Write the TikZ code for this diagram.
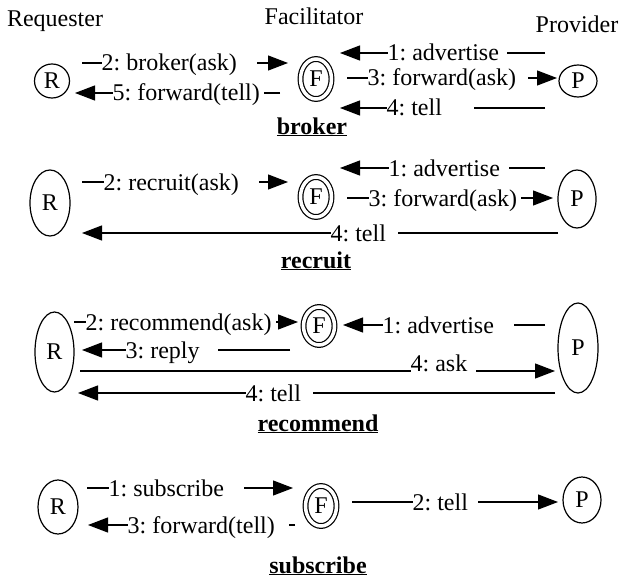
\documentclass[tikz,border=0pt]{standalone}
\usepackage{fontspec}
\setmainfont{Liberation Serif}
\usetikzlibrary{shapes.geometric,arrows.meta}
\newcommand{\gapbox}[2]{\makebox[#1][l]{#2}}
\begin{document}
\begin{tikzpicture}[x=1pt,y=-1pt,font=\fontsize{24}{28}\selectfont\frenchspacing,
  ell/.style={draw,ellipse,line width=1.2pt,inner sep=0pt,outer sep=0pt},
  fac/.style={ell,double,double distance=3.5pt,minimum width=31pt,minimum height=40pt},
  arr/.style={line width=1.2pt,-{Triangle[length=20pt,width=15pt]}},
  lab/.style={fill=white,inner xsep=0pt,inner ysep=1.5pt,anchor=base west},
  head/.style={anchor=base},
  title/.style={anchor=base,font=\fontsize{24}{28}\selectfont\bfseries}]
\useasboundingbox (0,0) rectangle (619,578);

% headers
\node[head] (hR) at (55,27) {Requester};
\node[head] (hF) at (314,25) {Facilitator};
\node[head] (hP) at (577,33) {Provider};

% ---------- broker ----------
\node[ell,minimum width=35pt,minimum height=34pt] (R1) at (52,81) {R};
\node[fac] (F1) at (316,79) {F};
\node[ell,minimum width=38pt,minimum height=32pt] (P1) at (578,81) {P};
\draw[arr,shorten <=12.5pt,shorten >=12.5pt] (R1.east |- 0,63) -- (F1.west |- 0,63)
  node[lab] at (101,71) {\gapbox{155pt}{2: broker(ask)}};
\draw[arr,shorten <=20.5pt,shorten >=5.5pt] (F1.west |- 0,93) -- (R1.east |- 0,93)
  node[lab] at (112,101) {\gapbox{151pt}{5: forward(tell)}};
\draw[arr,shorten <=14pt,shorten >=8.5pt] (P1.west |- 0,53) -- (F1.east |- 0,53)
  node[lab] at (387,61) {\gapbox{119pt}{1: advertise}};
\draw[arr,shorten <=15.5pt,shorten >=2pt] (F1.east |- 0,78) -- (P1.west |- 0,78)
  node[lab] at (367,86) {\gapbox{160pt}{3: forward(ask)}};
\draw[arr,shorten <=14pt,shorten >=8.5pt] (P1.west |- 0,108) -- (F1.east |- 0,108)
  node[lab] at (386,116) {\gapbox{87pt}{4: tell}};
\node[title] (T1) at (312,134) {\underline{broker}};

% ---------- recruit ----------
\node[ell,minimum width=40pt,minimum height=66pt] (R2) at (50,203) {R};
\node[fac] (F2) at (316,197) {F};
\node[ell,minimum width=38pt,minimum height=58pt] (P2) at (577,199) {P};
\draw[arr,shorten <=12pt,shorten >=12.5pt] (R2.east |- 0,182) -- (F2.west |- 0,182)
  node[lab] at (103,190) {\gapbox{155pt}{2: recruit(ask)}};
\draw[arr,shorten <=13pt,shorten >=8.5pt] (P2.west |- 0,168) -- (F2.east |- 0,168)
  node[lab] at (388,176) {\gapbox{120pt}{1: advertise}};
\draw[arr,shorten <=15.5pt,shorten >=5pt] (F2.east |- 0,198) -- (P2.west |- 0,198)
  node[lab] at (368,206) {\gapbox{152pt}{3: forward(ask)}};
\draw[arr,shorten >=12pt] (P2.west |- 0,233) -- (R2.east |- 0,233)
  node[lab] at (330,241) {\gapbox{67pt}{4: tell}};
\node[title] (T2) at (316,268) {\underline{recruit}};

% ---------- recommend ----------
\node[ell,minimum width=39pt,minimum height=80pt] (R3) at (54.5,352) {R};
\node[fac,minimum height=38pt] (F3) at (319,326) {F};
\node[ell,minimum width=40pt,minimum height=90pt] (P3) at (578,348) {P};
\draw[arr,shorten >=5.5pt] (R3.east |- 0,322) -- (F3.west |- 0,322)
  node[lab] at (85,330) {\gapbox{190pt}{2: recommend(ask)}};
\draw[arr,shorten <=13.5pt,shorten >=8pt] (F3.west |- 0,350) -- (R3.east |- 0,350)
  node[lab] at (125,358) {\gapbox{92pt}{3: reply}};
\draw[arr,shorten <=13pt,shorten >=8.5pt] (P3.west |- 0,325) -- (F3.east |- 0,325)
  node[lab] at (382,333) {\gapbox{131pt}{1: advertise}};
\draw[arr,shorten <=6pt,shorten >=3pt] (R3.east |- 0,371) -- (P3.west |- 0,371)
  node[lab] at (410,371) {\gapbox{65pt}{4: ask}};
\draw[arr,shorten <=3pt,shorten >=4pt] (P3.west |- 0,393) -- (R3.east |- 0,393)
  node[lab] at (245,401) {\gapbox{67pt}{4: tell}};
\node[title] (T3) at (318,431) {\underline{recommend}};

% ---------- subscribe ----------
\node[ell,minimum width=40pt,minimum height=54pt] (R4) at (58,507) {R};
\node[fac] (F4) at (321,506) {F};
\node[ell,minimum width=38pt,minimum height=46pt] (P4) at (582,500) {P};
\draw[arr,shorten <=9pt,shorten >=12.5pt] (R4.east |- 0,488) -- (F4.west |- 0,488)
  node[lab] at (108,496) {\gapbox{135pt}{1: subscribe}};
\draw[arr,shorten <=10.5pt,shorten >=10pt] (F4.west |- 0,525) -- (R4.east |- 0,525)
  node[lab] at (127,533) {\gapbox{161pt}{3: forward(tell)}};
\draw[arr,shorten <=15.5pt,shorten >=5pt] (F4.east |- 0,502) -- (P4.west |- 0,502)
  node[lab] at (412,510) {\gapbox{65pt}{2: tell}};
\node[title] (T4) at (318,573) {\underline{subscribe}};
\end{tikzpicture}
\end{document}
